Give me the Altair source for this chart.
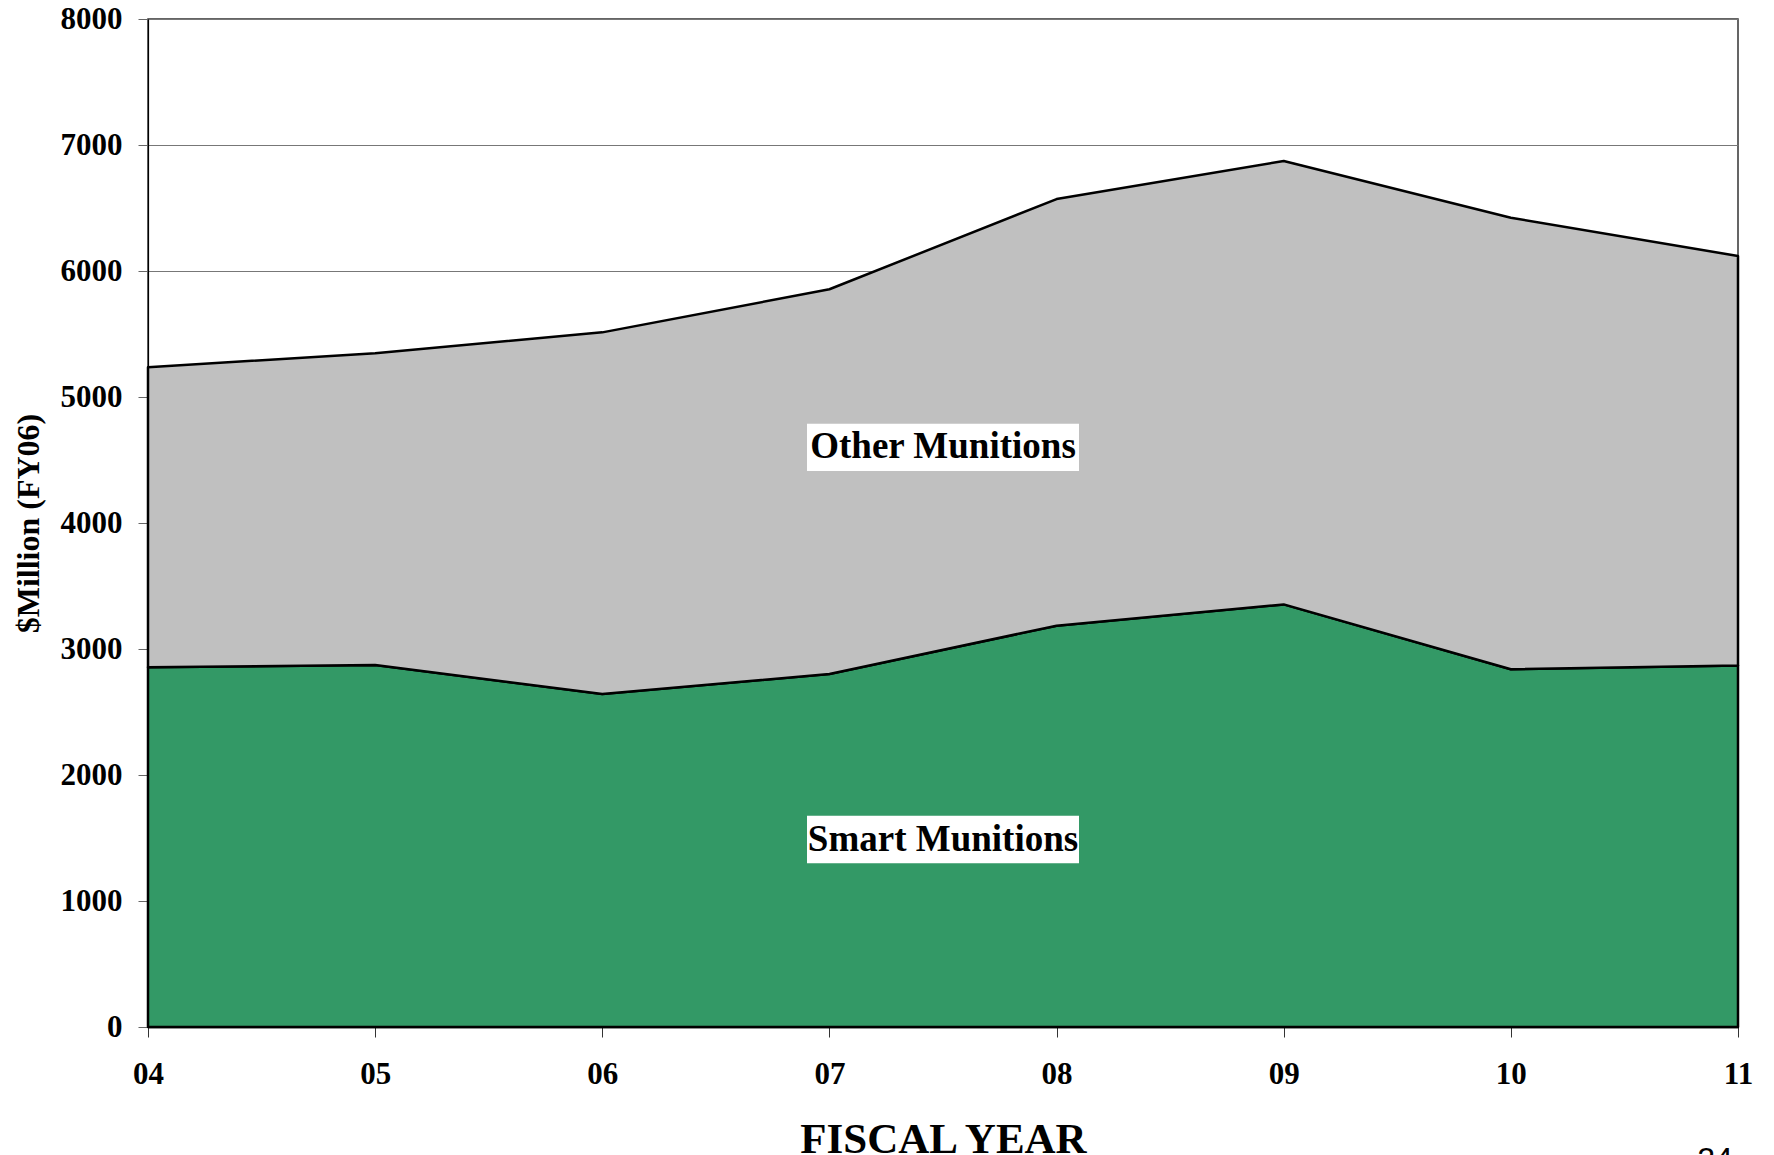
import altair as alt
import pandas as pd

# ---- data ----
years = [4, 5, 6, 7, 8, 9, 10, 11]
smart = [2855, 2873, 2643, 2802, 3185, 3354, 2839, 2870]
other = [2381, 2474, 2870, 3053, 3386, 3519, 3584, 3249]
series_names = ["Smart Munitions", "Other Munitions"]
series_colors = ["#339966", "#C0C0C0"]
y_ticks = [0, 1000, 2000, 3000, 4000, 5000, 6000, 7000, 8000]
label_text = ["Other Munitions", "Smart Munitions"]
label_year = [7.5, 7.5]
label_value = [4600, 1488]
page_number = ["24"]

rows = []
for i, yr in enumerate(years):
    rows.append({"year": yr, "value": smart[i], "series": series_names[0], "order": 0})
    rows.append({"year": yr, "value": other[i], "series": series_names[1], "order": 1})
df = pd.DataFrame(rows)
labels_df = pd.DataFrame({"year": label_year, "value": label_value, "label": label_text})

FONT = "Liberation Serif"

x_enc = alt.X(
    "year:Q",
    scale=alt.Scale(domain=[4, 11], nice=False, zero=False),
    axis=alt.Axis(
        values=years, format="02d", title="FISCAL YEAR",
        labelFont=FONT, labelFontWeight="bold", labelFontSize=31, labelColor="black",
        labelPadding=22, tickSize=10, tickColor="#333333", tickWidth=1,
        domainColor="black", domainWidth=1.5, grid=False,
        titleFont=FONT, titleFontWeight="bold", titleFontSize=43, titleColor="black",
        titleX=795, titleY=125, titleAlign="center", titleBaseline="alphabetic",
        labelFlush=False, labelOverlap=False,
    ),
)
y_enc = alt.Y(
    "value:Q",
    stack="zero",
    scale=alt.Scale(domain=[0, 8000], nice=False),
    axis=alt.Axis(
        values=y_ticks, format="d", title="$Million (FY06)",
        labelFont=FONT, labelFontWeight="bold", labelFontSize=31, labelColor="black",
        labelPadding=16, tickSize=10, tickColor="#666666", tickWidth=1,
        domainColor="black", domainWidth=1.2,
        grid=True, gridColor="#777777", gridWidth=1.2,
        titleFont=FONT, titleFontWeight="bold", titleFontSize=32, titleColor="black",
        titleX=-120, titleY=504, titleAngle=270, titleAlign="center", titleBaseline="middle",
        labelFlush=False, labelOverlap=False,
    ),
)

area = alt.Chart(df).mark_area(
    stroke="black", strokeWidth=2.5, opacity=1, fillOpacity=1, strokeJoin="round"
).encode(
    x=x_enc,
    y=y_enc,
    color=alt.Color("series:N", scale=alt.Scale(domain=series_names, range=series_colors), legend=None),
    order=alt.Order("order:Q"),
)

boxes = alt.Chart(labels_df).mark_point(
    shape="M-1,-0.174H1V0.174H-1Z", size=73984, filled=True, fill="white",
    opacity=1, strokeWidth=0,
).encode(
    x=alt.X("year:Q"),
    y=alt.Y("value:Q"),
)

texts = alt.Chart(labels_df).mark_text(
    font=FONT, fontWeight="bold", fontSize=37, color="black",
    align="center", baseline="middle",
).encode(
    x=alt.X("year:Q"),
    y=alt.Y("value:Q"),
    text="label:N",
)

page = alt.Chart(pd.DataFrame({"t": page_number})).mark_text(
    font="Liberation Sans", fontSize=32, color="black", align="center", baseline="alphabetic"
).encode(
    x=alt.value(1567),
    y=alt.value(1151),
    text="t:N",
)

chart = alt.layer(area, boxes, texts, page).properties(
    width=1590,
    height=1008,
    autosize=alt.AutoSizeParams(type="none"),
    padding={"left": 140, "top": 11, "right": 20, "bottom": 133},
    background="white",
).configure_view(
    stroke="#333333", strokeWidth=1.5
)

chart.save("out.html", embed_options={"renderer": "svg", "actions": False})
